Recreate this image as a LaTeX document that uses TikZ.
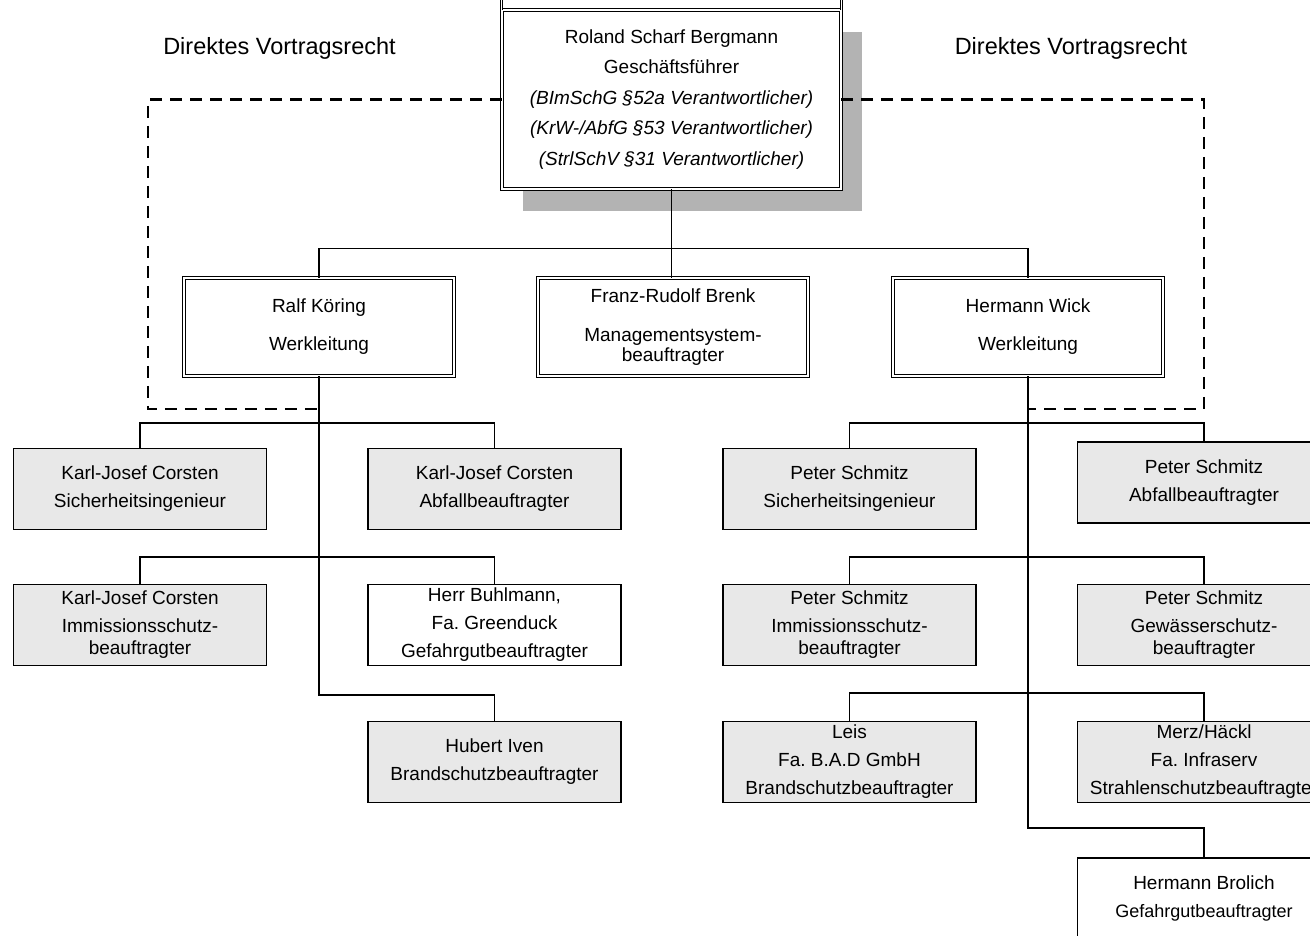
\documentclass[tikz,border=0pt]{standalone}
\usepackage{fontspec}
\setmainfont{Liberation Sans}
\usepackage{tikz}
\usetikzlibrary{shadows}
\definecolor{boxgray}{HTML}{E8E8E8}
\definecolor{shadowgray}{HTML}{B3B3B3}
\frenchspacing
\tikzset{
  leitung/.style={draw, line width=0.9pt, double, double distance=1.8pt,
    fill=white, inner sep=0pt, align=center,
    font=\fontsize{19}{28}\selectfont},
  beauftragt/.style={draw, line width=1.3pt, fill=boxgray,
    minimum width=253pt, minimum height=81pt, inner sep=0pt, align=center,
    font=\fontsize{19}{28}\selectfont},
  extern/.style={beauftragt, fill=white},
  linie/.style={line width=1.3pt},
  stamm/.style={line width=1.8pt},
  vortrag/.style={line width=2.2pt, dash pattern=on 12pt off 8pt},
}

\begin{document}
\begin{tikzpicture}[x=1pt, y=-1pt]

  \useasboundingbox (0,0) rectangle (1310,936);
  \clip (0,0) rectangle (1310,936);

  \node[font=\fontsize{23.5}{28}\selectfont] (vlinks) at (279.5,48) {Direktes Vortragsrecht};
  \node[font=\fontsize{23.5}{28}\selectfont] (vrechts) at (1071,48) {Direktes Vortragsrecht};

  % Geschaeftsfuehrung
  \node[leitung, minimum width=339pt, minimum height=179pt,
    font=\fontsize{19}{30.5}\selectfont,
    drop shadow={shadow xshift=21pt, shadow yshift=-22pt, fill=shadowgray, opacity=1}]
    (chef) at (671.5,99.5) {Roland Scharf Bergmann\\Geschäftsführer\\
    \textit{(BImSchG §52a Verantwortlicher)}\\
    \textit{(KrW-/AbfG §53 Verantwortlicher)}\\
    \textit{(StrlSchV §31 Verantwortlicher)}};
  \draw[line width=0.9pt, double, double distance=1.8pt] (chef.north west) -- ++(0,-10);
  \draw[line width=0.9pt, double, double distance=1.8pt] (chef.north east) -- ++(0,-10);

  % Werkleitung
  \node[leitung, minimum width=270pt, minimum height=98pt] (ralf) at (319,327)
    {Ralf Köring\\[10pt]Werkleitung};
  \node[leitung, minimum width=270pt, minimum height=98pt] (brenk) at (673,327)
    {Franz-Rudolf Brenk\\[11pt]Managementsystem-\\[-8pt]beauftragter};
  \node[leitung, minimum width=270pt, minimum height=98pt] (wick) at (1028,327)
    {Hermann Wick\\[10pt]Werkleitung};

  % Beauftragte links
  \node[beauftragt] (L1) at (140,489) {Karl-Josef Corsten\\Sicherheitsingenieur};
  \node[beauftragt] (L2) at (494.5,489) {Karl-Josef Corsten\\Abfallbeauftragter};
  \node[beauftragt] (L3) at (140,625) {Karl-Josef Corsten\\Immissionsschutz-\\[-6pt]beauftragter};
  \node[extern] (L4) at (494.5,625) {Herr Buhlmann,\\Fa. Greenduck\\Gefahrgutbeauftragter};
  \node[beauftragt] (L5) at (494.5,762) {Hubert Iven\\Brandschutzbeauftragter};

  % Beauftragte rechts
  \node[beauftragt] (R1) at (849.5,489) {Peter Schmitz\\Sicherheitsingenieur};
  \node[beauftragt] (R2) at (1204,482.5) {Peter Schmitz\\Abfallbeauftragter};
  \node[beauftragt] (R3) at (849.5,625) {Peter Schmitz\\Immissionsschutz-\\[-6pt]beauftragter};
  \node[beauftragt] (R4) at (1204,625) {Peter Schmitz\\Gewässerschutz-\\[-6pt]beauftragter};
  \node[beauftragt] (R5) at (849.5,762) {Leis\\Fa. B.A.D GmbH\\Brandschutzbeauftragter};
  \node[beauftragt] (R6) at (1204,762) {Merz/Häckl\\Fa. Infraserv\\Strahlenschutzbeauftragter};
  \node[extern] (R7) at (1204,898.5) {Hermann Brolich\\{\fontsize{18}{27}\selectfont Gefahrgutbeauftragter}};

  \coordinate (lecke) at (148,409);
  \coordinate (recke) at (1204,409);
  \coordinate (lstamm) at (319,695);
  \coordinate (rstamm) at (1028,828);

  \draw[vortrag] (chef.west) -| (lecke) -- (lecke -| ralf.south);
  \draw[vortrag] (chef.east) -| (recke) -- (recke -| wick.south);

  \draw[linie] (chef.south) -- ++(0,59) coordinate (oben);
  \draw[linie] (ralf.north) |- (oben) -| (wick.north);
  \draw[linie] (oben) -- (oben |- brenk.north);

  \draw[stamm] (ralf.south) -- (lstamm) -| (L5.north);
  \draw[linie] (L1.north) -- ++(0,-25) -| (L2.north);
  \draw[linie] (L3.north) -- ++(0,-27) -| (L4.north);

  \draw[stamm] (wick.south) -- (rstamm) -| (R7.north);
  \draw[linie] (R1.north) -- ++(0,-25) -| (R2.north);
  \draw[linie] (R3.north) -- ++(0,-27) -| (R4.north);
  \draw[linie] (R5.north) -- ++(0,-28) -| (R6.north);

\end{tikzpicture}
\end{document}
